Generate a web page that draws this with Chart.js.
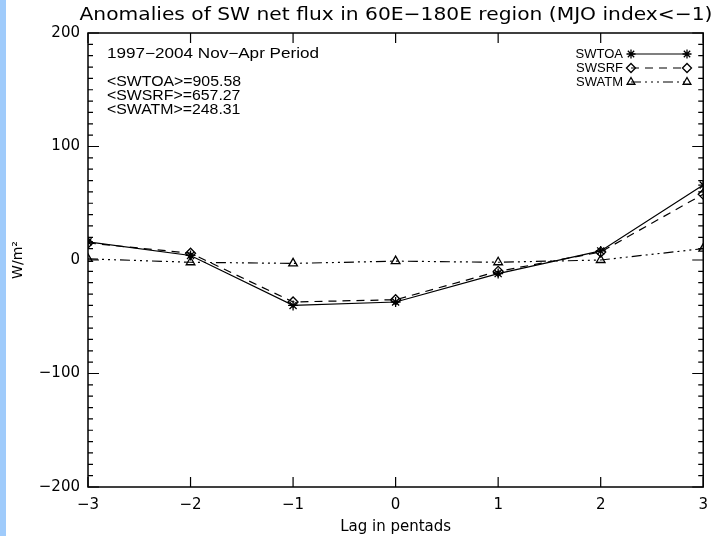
<!DOCTYPE html>
<html>
<head>
<meta charset="utf-8">
<script src="https://cdn.jsdelivr.net/npm/chart.js@4"></script>
<style>
  html, body { margin: 0; padding: 0; background: #fff; }
  #wrap { width: 717px; height: 536px; position: relative; }
</style>
</head>
<body>
<div id="wrap"><canvas id="grafico" width="717" height="536"></canvas></div>
<script>
// datos
const lags = [-3, -2, -1, 0, 1, 2, 3];
const swtoa = [16, 4, -40, -37, -12, 8, 66];
const swsrf = [15, 6, -37, -35, -10, 7, 58];
const swatm = [1, -2, -3, -1, -2, 0, 10];
const xTicks = [-3, -2, -1, 0, 1, 2, 3];
const yTicks = [-200, -100, 0, 100, 200];
const notas = ['<SWTOA>=905.58', '<SWSRF>=657.27', '<SWATM>=248.31'];

const fuente = '"Liberation Sans", Arial, sans-serif';
const fuenteEje = '"DejaVu Sans", sans-serif';
const menos = v => String(v).replace('-', '\u2212');

// escribe texto estirado en horizontal
function texto(ctx, str, x, y, escala) {
    ctx.save();
    ctx.translate(x, y);
    ctx.scale(escala, 1);
    ctx.fillText(str, 0, 0);
    ctx.restore();
}

function serie(label, vals, dash, estilo) {
    return {
        label: label,
        data: lags.map((x, i) => ({ x: x, y: vals[i] })),
        borderColor: '#000',
        backgroundColor: 'rgba(0,0,0,0)',
        borderWidth: 1.2,
        borderDash: dash,
        pointStyle: estilo,
        pointRadius: 5,
        pointBorderColor: '#000',
        pointBorderWidth: 1.3,
        pointBackgroundColor: 'rgba(0,0,0,0)',
        tension: 0
    };
}

const marco = {
    id: 'marco',
    beforeDraw(chart) {
        const ctx = chart.ctx;
        ctx.save();
        ctx.fillStyle = '#9fcbfb';
        ctx.fillRect(0, 0, 6, chart.height);
        ctx.restore();
    },
    afterDraw(chart) {
        const ctx = chart.ctx;
        const a = chart.chartArea;
        const xs = chart.scales.x, ys = chart.scales.y;
        ctx.save();
        ctx.strokeStyle = '#000';
        ctx.lineWidth = 1.5;
        ctx.strokeRect(a.left, a.top, a.right - a.left, a.bottom - a.top);
        ctx.lineWidth = 1.2;
        ctx.beginPath();
        xTicks.forEach(v => {
            const px = xs.getPixelForValue(v);
            ctx.moveTo(px, a.bottom); ctx.lineTo(px, a.bottom - 10);
            ctx.moveTo(px, a.top); ctx.lineTo(px, a.top + 10);
        });
        for (let v = -200; v <= 200; v += 10) {
            const py = ys.getPixelForValue(v);
            const len = (v % 100 === 0) ? 11 : 5;
            ctx.moveTo(a.left, py); ctx.lineTo(a.left + len, py);
            ctx.moveTo(a.right, py); ctx.lineTo(a.right - len, py);
        }
        ctx.stroke();

        // titulo
        ctx.fillStyle = '#000';
        ctx.font = '18px ' + fuenteEje;
        ctx.textAlign = 'center';
        ctx.textBaseline = 'middle';
        const titulo = 'Anomalies of SW net flux in 60E\u2212180E region (MJO index<\u22121)';
        texto(ctx, titulo, 396, 15, 633 / ctx.measureText(titulo).width);

        // notas
        ctx.font = '14px ' + fuente;
        ctx.textAlign = 'left';
        const periodo = '1997\u22122004 Nov\u2212Apr Period';
        texto(ctx, periodo, 107, 54, 212 / ctx.measureText(periodo).width);
        const esc = 134 / ctx.measureText(notas[0]).width;
        notas.forEach((t, i) => texto(ctx, t, 107, 82 + i * 14, esc));

        // leyenda
        chart.data.datasets.forEach((ds, i) => {
            const y = 54 + i * 14;
            ctx.textAlign = 'right';
            ctx.font = '13px ' + fuente;
            ctx.fillStyle = '#000';
            ctx.fillText(ds.label, 623, y);
            ctx.beginPath();
            ctx.setLineDash(ds.borderDash);
            ctx.lineWidth = 1.2;
            ctx.moveTo(631, y); ctx.lineTo(687, y);
            ctx.stroke();
            ctx.setLineDash([]);
            ctx.lineWidth = 1.3;
            ctx.fillStyle = 'rgba(0,0,0,0)';
            [631, 687].forEach(px => {
                Chart.helpers.drawPoint(ctx, { pointStyle: ds.pointStyle, radius: 4.5, rotation: 0, borderWidth: 1.3 }, px, y);
            });
        });
        ctx.restore();
    }
};

new Chart(document.getElementById('grafico').getContext('2d'), {
    type: 'line',
    data: {
        datasets: [
            serie('SWTOA', swtoa, [], 'star'),
            serie('SWSRF', swsrf, [8, 6], 'rectRot'),
            serie('SWATM', swatm, [10, 4, 2, 4, 2, 4, 2, 4], 'triangle')
        ]
    },
    options: {
        responsive: false,
        animation: false,
        layout: { padding: { top: 33, right: 9, left: 0, bottom: 0 } },
        plugins: { legend: { display: false }, title: { display: false }, tooltip: { enabled: false } },
        scales: {
            x: {
                type: 'linear',
                min: -3, max: 3,
                afterFit: s => { s.height = 49; },
                afterBuildTicks: s => { s.ticks = xTicks.map(v => ({ value: v })); },
                grid: { display: false, drawTicks: false },
                border: { display: false },
                ticks: { color: '#000', font: { family: fuenteEje, size: 15 }, padding: 9, maxRotation: 0, callback: menos },
                title: { display: true, text: 'Lag in pentads', color: '#000', font: { family: fuenteEje, size: 15 }, padding: { top: 0, bottom: 0 } }
            },
            y: {
                min: -200, max: 200,
                afterFit: s => { s.width = 88; },
                afterBuildTicks: s => { s.ticks = yTicks.map(v => ({ value: v })); },
                grid: { display: false, drawTicks: false },
                border: { display: false },
                ticks: { color: '#000', font: { family: fuenteEje, size: 15 }, padding: 8, callback: menos },
                title: { display: true, text: 'W/m\u00b2', color: '#000', font: { family: fuenteEje, size: 14 }, padding: { top: 10, bottom: 0 } }
            }
        }
    },
    plugins: [marco]
});
</script>
</body>
</html>
